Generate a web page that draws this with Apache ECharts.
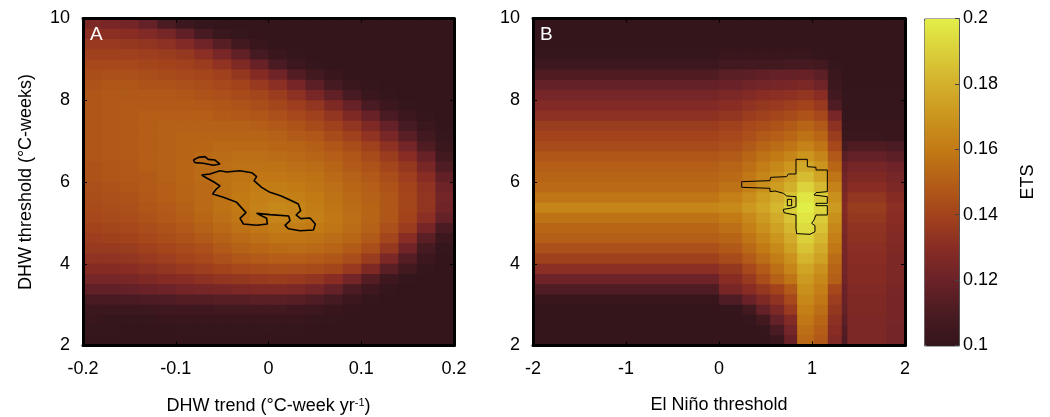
<!DOCTYPE html>
<html><head><meta charset="utf-8">
<script src="https://cdn.jsdelivr.net/npm/echarts@6/dist/echarts.min.js"></script>
<style>html,body{margin:0;padding:0;background:#fff}#c{width:1050px;height:417px}</style>
</head><body><div id="c"></div><script>
// ---------- tick labels ----------
const trendTicks = [-0.2, -0.1, 0, 0.1, 0.2];
const dhwTicks = [2, 4, 6, 8, 10];
const elNinoTicks = [-2, -1, 0, 1, 2];
const etsTicks = [0.1, 0.12, 0.14, 0.16, 0.18, 0.2];

// ---------- cell edges ----------
const trendEdgesA = [-0.2,-0.18,-0.16,-0.14,-0.12,-0.1,-0.08,-0.06,-0.04,-0.02,0,0.02,0.04,0.06,0.08,0.1,0.12,0.14,0.16,0.18,0.2];
const dhwEdges = [10,9.75,9.5,9.25,9,8.75,8.5,8.25,8,7.75,7.5,7.25,7,6.75,6.5,6.25,6,5.75,5.5,5.25,5,4.75,4.5,4.25,4,3.75,3.5,3.25,3,2.75,2.5,2.25,2];
const elNinoEdgesB = [-2,0,0.25,0.4,0.55,0.7,0.84,1.02,1.17,1.32,1.38,1.8,2];

// ---------- ETS values (thousandths), rows top (DHW 10) to bottom (DHW 2) ----------
const etsA_milli = [
[126,125,123,118,110,104,101,100,100,100,100,100,100,100,100,100,100,100,100,100],
[131,131,130,128,124,117,109,103,101,100,100,100,100,100,100,100,100,100,100,100],
[136,136,135,134,132,128,122,114,106,102,100,100,100,100,100,100,100,100,100,100],
[139,139,139,138,137,135,131,125,117,108,103,101,100,100,100,100,100,100,100,100],
[142,142,142,141,140,139,137,133,127,119,110,104,101,100,100,100,100,100,100,100],
[144,145,145,144,143,142,141,139,135,129,122,113,106,102,100,100,100,100,100,100],
[146,147,147,146,146,145,144,142,140,136,131,124,116,108,103,101,100,100,100,100],
[147,148,148,148,148,147,146,145,143,141,137,132,125,117,109,103,101,100,100,100],
[147,148,149,149,149,149,148,147,146,144,141,138,134,127,119,110,104,101,100,100],
[147,148,149,150,150,150,150,149,148,147,145,142,139,134,127,119,110,104,101,100],
[147,148,149,150,151,151,151,151,151,150,148,146,143,139,134,127,118,109,103,100],
[147,148,149,150,151,152,152,152,152,152,151,149,147,143,139,133,125,115,106,101],
[147,148,149,150,151,152,153,154,154,154,153,152,150,147,144,139,132,123,112,103],
[147,148,149,150,151,152,154,155,156,156,155,154,152,150,147,143,137,130,119,107],
[146,147,148,150,151,153,155,156,157,157,157,156,155,152,149,146,141,135,125,112],
[146,147,148,149,151,153,155,157,158,159,159,158,157,154,151,148,144,138,130,117],
[145,146,147,149,150,152,154,157,159,161,161,160,158,156,153,150,146,140,133,121],
[144,145,146,148,150,152,154,157,160,162,163,162,160,157,154,151,147,141,134,123],
[143,144,145,147,149,151,154,157,160,163,165,164,161,158,155,152,147,141,134,122],
[142,143,144,146,148,150,153,156,159,162,164,164,162,159,156,152,147,140,131,118],
[140,141,142,144,146,148,151,154,157,159,161,161,160,158,155,151,145,137,124,110],
[138,139,140,142,144,146,148,151,154,156,158,158,157,155,153,148,141,130,115,104],
[136,136,137,139,141,143,145,148,151,153,154,155,154,152,149,144,135,122,108,101],
[133,133,134,136,138,140,142,145,147,149,150,150,149,147,144,137,126,113,104,100],
[129,129,130,132,134,136,138,140,142,143,144,144,143,141,136,127,115,106,101,100],
[124,124,125,127,129,130,132,134,135,136,137,136,134,130,123,113,105,101,100,100],
[117,117,118,120,121,123,124,125,126,127,127,126,123,118,111,105,101,100,100,100],
[109,109,110,111,112,113,113,114,114,115,115,114,112,108,104,101,100,100,100,100],
[104,104,104,104,105,105,105,106,106,106,106,105,104,102,101,100,100,100,100,100],
[102,101,101,101,102,102,102,102,102,102,102,102,101,101,100,100,100,100,100,100],
[101,101,100,100,100,101,101,101,101,101,101,101,100,100,100,100,100,100,100,100],
[100,100,100,100,100,100,100,100,100,100,100,100,100,100,100,100,100,100,100,100]
];

const etsB_milli = [
[100,100,100,100,100,100,100,100,100,100,100,100],
[100,100,100,100,100,100,100,100,100,100,100,100],
[100,100,100,100,100,100,100,100,100,100,100,100],
[101,102,102,102,102,102,102,101,100,100,100,100],
[104,106,106,107,107,108,108,106,101,100,100,100],
[112,115,116,117,118,118,119,116,103,100,100,100],
[118,120,122,123,124,125,126,122,104,100,100,100],
[124,126,128,130,131,132,134,130,106,101,101,101],
[128,130,133,135,136,138,140,136,112,101,101,101],
[132,134,137,139,141,143,146,142,125,101,101,101],
[137,139,142,144,146,149,152,148,132,102,102,102],
[140,142,145,148,150,153,157,153,137,103,103,102],
[143,145,148,152,155,158,163,158,142,108,112,110],
[147,149,153,157,160,164,170,164,148,115,118,116],
[150,152,156,161,165,170,177,170,153,120,124,121],
[152,154,159,164,169,175,184,176,158,122,127,124],
[154,157,162,168,173,180,191,183,163,124,130,126],
[158,162,167,173,179,186,197,189,168,126,134,129],
[164,166,171,176,182,190,200,192,172,128,137,131],
[157,160,166,172,178,186,197,189,168,127,135,130],
[153,156,162,168,174,182,194,186,165,126,133,129],
[150,152,158,164,170,178,190,182,162,125,132,128],
[145,148,154,160,166,174,186,178,159,124,131,127],
[139,143,149,155,161,169,181,174,155,123,130,126],
[131,135,142,149,156,164,176,169,152,123,129,126],
[121,130,136,144,151,158,172,165,150,122,129,126],
[112,125,130,135,140,148,168,162,142,120,128,125],
[102,112,120,127,133,142,165,159,138,119,127,124],
[100,101,106,118,126,136,162,156,135,118,127,124],
[100,100,101,107,118,128,159,153,132,116,126,124],
[100,100,100,101,110,123,156,150,130,113,126,123],
[100,100,100,100,103,119,154,148,128,111,126,123]
];

// ---------- contour outlines [x, y] ----------
const contourA_main = [[-0.0721,6.171],[-0.0631,6.196],[-0.0523,6.277],[-0.0451,6.245],[-0.0307,6.277],[-0.0181,6.228],[-0.0128,6.130],[-0.0156,6.033],[-0.0074,5.870],[0.0016,5.747],[0.0131,5.666],[0.0232,5.560],[0.0322,5.462],[0.0347,5.299],[0.0297,5.193],[0.0347,5.103],[0.0448,5.119],[0.0505,4.972],[0.0484,4.826],[0.0340,4.809],[0.0214,4.858],[0.0178,4.940],[0.0232,5.054],[0.0218,5.168],[0.0016,5.201],[-0.0128,5.233],[-0.0020,5.111],[-0.0013,4.972],[-0.0128,4.940],[-0.0271,4.972],[-0.0307,5.111],[-0.0243,5.250],[-0.0343,5.502],[-0.0487,5.625],[-0.0602,5.706],[-0.0566,5.821],[-0.0523,5.902],[-0.0588,6.000],[-0.0667,6.098],[-0.0721,6.171]];
const contourA_blob = [[-0.0810,6.538],[-0.0756,6.603],[-0.0685,6.620],[-0.0649,6.554],[-0.0577,6.538],[-0.0523,6.440],[-0.0595,6.408],[-0.0703,6.457],[-0.0792,6.473],[-0.0810,6.538]];
const contourB_main = [[0.2438,6.008],[0.5484,6.033],[0.5555,6.114],[0.7276,6.131],[0.7455,6.196],[0.8279,6.196],[0.8279,6.555],[0.9498,6.555],[0.9498,6.375],[1.0430,6.359],[1.0430,6.294],[1.1648,6.294],[1.1648,5.764],[1.0430,5.739],[1.0215,5.682],[1.0430,5.641],[1.1648,5.641],[1.1648,5.478],[1.0430,5.478],[1.0430,5.421],[1.1648,5.421],[1.1648,5.193],[1.0430,5.193],[1.0215,5.070],[0.9964,4.989],[1.0322,4.932],[1.0322,4.785],[0.9784,4.720],[0.8351,4.736],[0.8279,4.867],[0.8279,5.193],[0.7634,5.217],[0.6989,5.250],[0.6917,5.331],[0.7634,5.356],[0.8279,5.397],[0.8279,5.641],[0.7276,5.658],[0.6917,5.723],[0.6021,5.780],[0.5484,5.764],[0.5484,5.845],[0.2438,5.870],[0.2438,6.008]];
const contourB_hole = [[0.7347,5.576],[0.7813,5.576],[0.7813,5.421],[0.7347,5.421],[0.7347,5.576]];

// ---------- colour scale (ETS 0.10 -> 0.20) ----------
const etsColors = ['#33151b','#4a1b22','#6a2228','#882c24','#a2431c','#b45e17','#c27a15','#cb951e','#d3b02c','#dbcf3a','#e2ee48'];

// ---------- build ----------
function cells(xEdges, yEdges, m) {
  const out = [];
  for (let i = 0; i < m.length; i++)
    for (let j = 0; j < m[i].length; j++)
      out.push([xEdges[j], xEdges[j + 1], yEdges[i + 1], yEdges[i], m[i][j] / 1000]);
  return out;
}
function renderCell(params, api) {
  const tl = api.coord([api.value(0), api.value(3)]);
  const br = api.coord([api.value(1), api.value(2)]);
  return { type: 'rect',
    shape: { x: tl[0], y: tl[1], width: br[0] - tl[0] + 1, height: br[1] - tl[1] + 1 },
    style: { fill: api.visual('color') } };
}
const FONT = 'Liberation Sans';
const txt = { fontFamily: FONT, fontSize: 18, color: '#000' };
function axis(gridIndex, position, ticks, opts) {
  const o = {
    type: 'value', gridIndex, position, z: 10,
    min: ticks[0], max: ticks[ticks.length - 1], interval: ticks[1] - ticks[0],
    axisLine: { show: true, onZero: false, lineStyle: { color: '#000', width: 3 } },
    axisTick: { show: true, inside: true, length: 4, lineStyle: { color: '#000', width: 1 } },
    axisLabel: { show: false },
    splitLine: { show: false }
  };
  return Object.assign(o, opts || {});
}
const chart = echarts.init(document.getElementById('c'), null, { renderer: 'canvas' });
chart.setOption({
  animation: false,
  textStyle: { fontFamily: FONT },
  title: [
    { text: 'A', left: 90, top: 25, padding: 0, textStyle: { color: '#fff', fontSize: 19, fontWeight: 'normal', fontFamily: FONT } },
    { text: 'B', left: 540, top: 25, padding: 0, textStyle: { color: '#fff', fontSize: 19, fontWeight: 'normal', fontFamily: FONT } }
  ],
  grid: [
    { left: 83, top: 18.5, width: 371, height: 327, outerBoundsMode: 'none', containLabel: false },
    { left: 533, top: 18.5, width: 372, height: 327, outerBoundsMode: 'none', containLabel: false },
    { left: 924, top: 18.5, width: 35, height: 327, outerBoundsMode: 'none', containLabel: false }
  ],
  xAxis: [
    axis(0, 'bottom', trendTicks, { axisLabel: Object.assign({ show: true, margin: 15 }, txt),
      name: 'DHW trend (°C-week yr{sup|-1})', nameLocation: 'middle', nameGap: 52, nameMoveOverlap: false,
      nameTextStyle: Object.assign({ rich: { sup: { fontSize: 11, verticalAlign: 'top', fontFamily: FONT, color: '#000' } } }, txt) }),
    axis(0, 'top', trendTicks),
    axis(1, 'bottom', elNinoTicks, { axisLabel: Object.assign({ show: true, margin: 15 }, txt),
      name: 'El Niño threshold', nameLocation: 'middle', nameGap: 51, nameMoveOverlap: false, nameTextStyle: txt }),
    axis(1, 'top', elNinoTicks),
    { type: 'value', gridIndex: 2, min: 0, max: 1, show: false }
  ],
  yAxis: [
    axis(0, 'left', dhwTicks, { axisLabel: Object.assign({ show: true, margin: 13 }, txt),
      name: 'DHW threshold (°C-weeks)', nameLocation: 'middle', nameGap: 48, nameMoveOverlap: false, nameTextStyle: txt }),
    axis(0, 'right', dhwTicks),
    axis(1, 'left', dhwTicks, { axisLabel: Object.assign({ show: true, margin: 13 }, txt) }),
    axis(1, 'right', dhwTicks),
    { type: 'value', gridIndex: 2, position: 'right', z: 10,
      min: etsTicks[0], max: etsTicks[etsTicks.length - 1], interval: etsTicks[1] - etsTicks[0],
      axisLine: { show: true, onZero: false, lineStyle: { color: '#555', width: 1 } },
      axisTick: { show: true, inside: true, length: 4, lineStyle: { color: '#444' } },
      axisLabel: Object.assign({ show: true, margin: 4, formatter: v => String(+v.toFixed(2)) }, txt),
      splitLine: { show: false },
      name: 'ETS', nameLocation: 'middle', nameRotate: 90, nameGap: 60, nameMoveOverlap: false, nameTextStyle: txt }
  ],
  visualMap: {
    type: 'continuous', min: etsTicks[0], max: etsTicks[etsTicks.length - 1],
    seriesIndex: [0, 1], dimension: 4, calculable: false, hoverLink: false,
    left: 924, top: 18.5, itemWidth: 35, itemHeight: 327, padding: 0,
    text: null, borderColor: '#555', borderWidth: 1,
    inRange: { color: etsColors }
  },
  series: [
    { type: 'custom', xAxisIndex: 0, yAxisIndex: 0, renderItem: renderCell, clip: true, z: 1,
      encode: { x: [0, 1], y: [2, 3] }, data: cells(trendEdgesA, dhwEdges, etsA_milli) },
    { type: 'custom', xAxisIndex: 2, yAxisIndex: 2, renderItem: renderCell, clip: true, z: 1,
      encode: { x: [0, 1], y: [2, 3] }, data: cells(elNinoEdgesB, dhwEdges, etsB_milli) },
    { type: 'line', xAxisIndex: 0, yAxisIndex: 0, data: contourA_main, showSymbol: false, z: 5,
      lineStyle: { color: '#000', width: 1.6 }, silent: true },
    { type: 'line', xAxisIndex: 0, yAxisIndex: 0, data: contourA_blob, showSymbol: false, z: 5,
      lineStyle: { color: '#000', width: 1.6 }, silent: true },
    { type: 'line', xAxisIndex: 2, yAxisIndex: 2, data: contourB_main, showSymbol: false, z: 5,
      lineStyle: { color: '#000', width: 1 }, silent: true },
    { type: 'line', xAxisIndex: 2, yAxisIndex: 2, data: contourB_hole, showSymbol: false, z: 5,
      lineStyle: { color: '#000', width: 1 }, silent: true }
  ]
});
</script></body></html>
